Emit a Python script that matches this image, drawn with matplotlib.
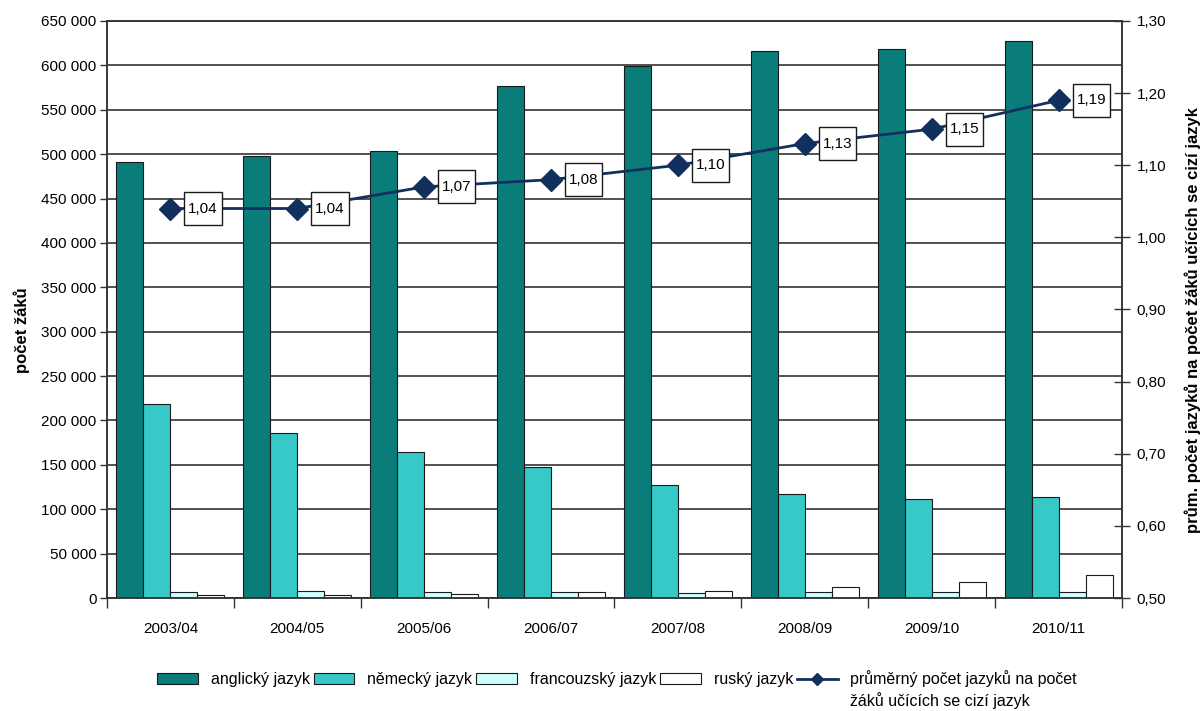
import numpy as np
import matplotlib
matplotlib.use('Agg')
import matplotlib.pyplot as plt
from matplotlib.patches import Patch
from matplotlib.lines import Line2D
from matplotlib.ticker import FuncFormatter, MultipleLocator

plt.rcParams['font.family'] = ['Liberation Sans', 'DejaVu Sans']

# data
roky = ['2003/04', '2004/05', '2005/06', '2006/07', '2007/08', '2008/09', '2009/10', '2010/11']
anglicky = [491000, 498000, 504000, 577000, 599000, 616000, 618000, 627000]
nemecky = [218000, 186000, 165000, 148000, 127000, 117000, 112000, 114000]
francouzsky = [6500, 8000, 6500, 6500, 6000, 6500, 6500, 6500]
rusky = [3500, 3500, 4500, 6500, 8000, 12500, 17500, 26000]
prumer = [1.04, 1.04, 1.07, 1.08, 1.10, 1.13, 1.15, 1.19]

nazvy = ['anglický jazyk', 'německý jazyk', 'francouzský jazyk', 'ruský jazyk']
barvy = ['#0a7d7a', '#36c9c7', '#ccffff', '#ffffff']
line_col = '#12305e'

fig = plt.figure(figsize=(12.03, 7.11), dpi=100)
ax = fig.add_axes([0.0889, 0.1589, 0.8438, 0.8116])

x = np.arange(len(roky))
w = 0.213
for i, (vals, col) in enumerate(zip([anglicky, nemecky, francouzsky, rusky], barvy)):
    ax.bar(x + (i - 1.5) * w, vals, w, color=col, edgecolor='#1a1a1a', linewidth=0.8, zorder=2)

ax.set_xlim(-0.5, len(roky) - 0.5)
ax.set_ylim(0, 650000)
ax.yaxis.set_major_locator(MultipleLocator(50000))
ax.yaxis.set_major_formatter(FuncFormatter(lambda v, p: f'{int(v):,}'.replace(',', ' ')))
ax.yaxis.grid(True, color='#222222', linewidth=1.1, zorder=0)
ax.set_axisbelow(True)
ax.set_xticks(x)
ax.set_xticklabels(roky)
ax.set_xticks(np.arange(len(roky) + 1) - 0.5, minor=True)
ax.tick_params(axis='x', which='major', length=0, pad=17, labelsize=11)
ax.tick_params(axis='x', which='minor', length=7, width=1, color='#333333')
ax.tick_params(axis='y', length=5, width=1, pad=2.5, labelsize=11, color='#333333')
for s in ax.spines.values():
    s.set_color('#333333')
    s.set_linewidth(1.1)
ax.set_ylabel('počet žáků', fontsize=12, fontweight='bold')
ax.yaxis.set_label_coords(-0.0837, 0.464)
ax.yaxis.label.set_va('center')

ax2 = ax.twinx()
ax2.set_ylim(0.5, 1.3)
ax2.yaxis.set_major_locator(MultipleLocator(0.1))
ax2.yaxis.set_major_formatter(FuncFormatter(lambda v, p: f'{v:.2f}'.replace('.', ',')))
ax2.tick_params(axis='y', direction='inout', length=11, width=1, pad=5, labelsize=11, color='#333333')
for s in ax2.spines.values():
    s.set_color('#333333')
    s.set_linewidth(1.1)
ax2.plot(x, prumer, color=line_col, linewidth=2, marker='D', markersize=11, zorder=3)
for xi, v in zip(x, prumer):
    ax2.annotate(f'{v:.2f}'.replace('.', ','), (xi, v), xytext=(23.5, 0), textcoords='offset points',
                 ha='center', va='center', fontsize=11, zorder=5,
                 bbox=dict(boxstyle='square,pad=0.25', mutation_aspect=2.5,
                           fc='white', ec='#1a1a1a', lw=1))
ax2.set_ylabel('prům. počet jazyků na počet žáků učících se cizí jazyk', fontsize=12,
               fontweight='bold', rotation=90)
ax2.yaxis.set_label_coords(1.07, 0.482)
ax2.yaxis.label.set_va('center')

handles = [Patch(facecolor=c, edgecolor='#1a1a1a', linewidth=0.8) for c in barvy]
handles.append(Line2D([], [], color=line_col, linewidth=2, marker='D', markersize=6))
labels = nazvy + ['průměrný počet jazyků na počet']
leg = fig.legend(handles, labels, loc='center', bbox_to_anchor=(0.513, 1 - 679 / 711), ncol=5,
                 frameon=False, fontsize=11.5, handlelength=2.55, handleheight=0.7,
                 handletextpad=0.8, columnspacing=0.25)

fig.canvas.draw()
bb = leg.get_texts()[4].get_window_extent()
fig.text(bb.x0 / fig.bbox.width, (bb.y0 - 5) / fig.bbox.height, 'žáků učících se cizí jazyk',
         fontsize=11.5, ha='left', va='top')

fig.savefig('out.png', dpi=100)
